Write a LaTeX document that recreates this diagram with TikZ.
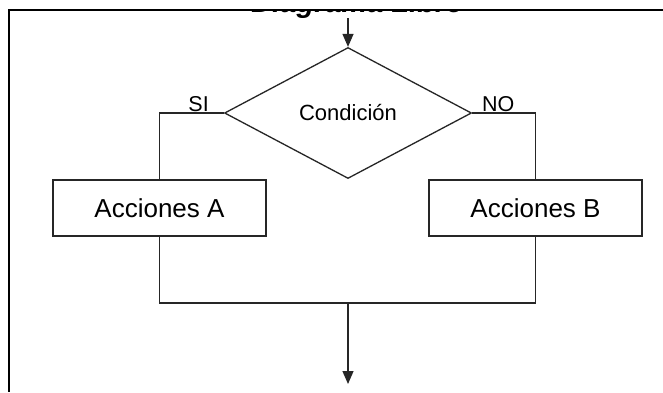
\documentclass[tikz,border=0pt]{standalone}
\usepackage{fontspec}
\setmainfont{Liberation Sans}
\usetikzlibrary{shapes.geometric,arrows.meta}
\begin{document}
\begin{tikzpicture}[x=1pt,y=-1pt,
  line/.style={draw=black!85,line width=1.3pt},
  flow/.style={line,-{Triangle[width=11pt,length=13pt]}},
  frame/.style={draw=black,line width=2.2pt},
  actionbox/.style={line,rectangle,minimum width=213pt,minimum height=56pt,inner sep=0pt,font=\fontsize{26}{30}\selectfont},
  decision/.style={line,diamond,minimum width=247pt,minimum height=131pt,inner sep=0pt,font=\fontsize{22}{26}\selectfont},
  branchlabel/.style={inner sep=0pt,font=\fontsize{21.5}{24}\selectfont}]
\useasboundingbox (0,0) rectangle (663,392);
\fill[white] (0,0) rectangle (663,392);

% heading, cut by the upper edge of the frame
\begin{scope}
  \clip (9,11) rectangle (663,392);
  \node[anchor=base,inner sep=0pt,font=\bfseries\itshape\fontsize{29}{32}\selectfont] (title) at (357,12.5) {Diagrama Libre};
\end{scope}
\draw[frame] (8,10) -- (663,10);
\draw[frame] (9,9) -- (9,392);

% decision and the two branches
\node[decision] (cond) at (348,113) {Condición};
\node[actionbox] (boxA) at (159.5,208) {Acciones A};
\node[actionbox] (boxB) at (535.5,208) {Acciones B};

\node[branchlabel,anchor=base east] (si) at (209,111) {SI};
\node[branchlabel,anchor=base west] (no) at (482,111) {NO};

\coordinate (entry) at (348,18);
\coordinate (join) at (348,303);
\coordinate (exit) at (348,384);

\draw[flow] (entry) -- (cond.north);
\draw[line] (cond.west) -| (boxA.north);
\draw[line] (cond.east) -| (boxB.north);
\draw[line] (boxA.south) |- (join) -| (boxB.south);
\draw[flow] (join) -- (exit);
\end{tikzpicture}
\end{document}
